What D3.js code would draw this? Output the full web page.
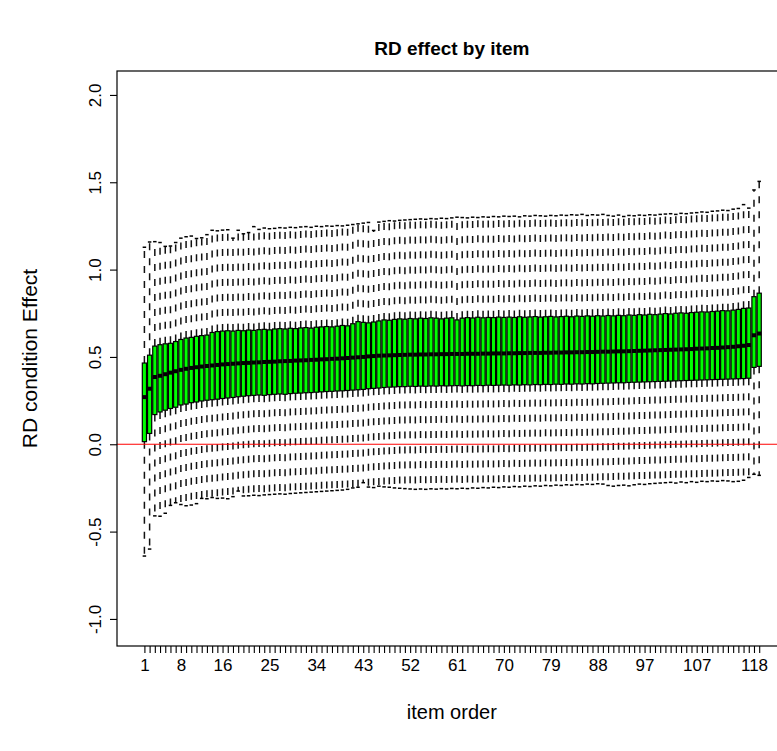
<!DOCTYPE html>
<html>
<head>
<meta charset="utf-8">
<script src="https://cdn.jsdelivr.net/npm/d3@7"></script>
<style>
  body { margin: 0; background: #fff; }
  svg { font-family: "Liberation Sans", Arial, Helvetica, sans-serif; }
</style>
</head>
<body>
<div id="chart"></div>
<script>
var svgWidth = 777;
var svgHeight = 751;

// box stats per item (items sorted by median)
var whiskerLo = [
  -0.640,-0.600,-0.410,-0.412,-0.395,-0.350,-0.335,-0.345,-0.352,-0.348,
  -0.340,-0.310,-0.312,-0.305,-0.310,-0.308,-0.312,-0.300,-0.268,-0.296,
  -0.295,-0.292,-0.294,-0.290,-0.288,-0.286,-0.284,-0.286,-0.282,-0.280,
  -0.278,-0.276,-0.274,-0.272,-0.270,-0.268,-0.266,-0.264,-0.262,-0.258,
  -0.250,-0.246,-0.220,-0.245,-0.248,-0.240,-0.244,-0.246,-0.250,-0.252,
  -0.254,-0.256,-0.258,-0.256,-0.258,-0.255,-0.257,-0.254,-0.256,-0.253,
  -0.255,-0.252,-0.254,-0.250,-0.252,-0.248,-0.250,-0.246,-0.248,-0.244,
  -0.246,-0.242,-0.244,-0.240,-0.242,-0.238,-0.240,-0.236,-0.238,-0.234,
  -0.236,-0.232,-0.234,-0.230,-0.232,-0.228,-0.230,-0.226,-0.228,-0.236,
  -0.240,-0.236,-0.234,-0.238,-0.232,-0.228,-0.230,-0.226,-0.224,-0.222,
  -0.220,-0.218,-0.222,-0.216,-0.220,-0.214,-0.218,-0.212,-0.214,-0.210,
  -0.212,-0.208,-0.210,-0.214,-0.212,-0.206,-0.190,-0.172,-0.178
];
var boxLo = [
  0.015,0.062,0.170,0.185,0.195,0.205,0.212,0.225,0.230,0.238,
  0.242,0.248,0.252,0.255,0.258,0.262,0.265,0.268,0.272,0.275,
  0.278,0.280,0.282,0.280,0.284,0.286,0.288,0.286,0.290,0.292,
  0.293,0.295,0.296,0.298,0.300,0.302,0.303,0.305,0.306,0.308,
  0.310,0.312,0.314,0.318,0.320,0.322,0.325,0.327,0.328,0.330,
  0.330,0.332,0.331,0.333,0.332,0.334,0.333,0.335,0.334,0.335,
  0.336,0.334,0.336,0.335,0.337,0.336,0.338,0.337,0.338,0.339,
  0.338,0.340,0.339,0.341,0.340,0.342,0.341,0.343,0.342,0.344,
  0.343,0.345,0.344,0.346,0.345,0.347,0.346,0.348,0.349,0.350,
  0.351,0.352,0.352,0.354,0.355,0.356,0.357,0.358,0.359,0.360,
  0.361,0.362,0.363,0.364,0.365,0.366,0.367,0.368,0.369,0.370,
  0.371,0.372,0.373,0.374,0.375,0.376,0.378,0.440,0.446
];
var medians = [
  0.270,0.318,0.385,0.392,0.401,0.410,0.418,0.426,0.432,0.437,
  0.441,0.445,0.448,0.451,0.454,0.457,0.459,0.461,0.463,0.465,
  0.466,0.468,0.469,0.471,0.472,0.473,0.475,0.476,0.477,0.479,
  0.480,0.481,0.483,0.484,0.486,0.487,0.489,0.490,0.492,0.494,
  0.496,0.498,0.500,0.503,0.505,0.507,0.508,0.509,0.510,0.511,
  0.512,0.513,0.513,0.514,0.514,0.515,0.515,0.516,0.516,0.517,
  0.517,0.517,0.518,0.518,0.518,0.519,0.519,0.520,0.520,0.520,
  0.521,0.521,0.522,0.522,0.523,0.523,0.523,0.524,0.524,0.525,
  0.525,0.526,0.526,0.527,0.527,0.528,0.528,0.529,0.530,0.530,
  0.531,0.532,0.532,0.533,0.534,0.535,0.536,0.537,0.538,0.539,
  0.540,0.541,0.542,0.543,0.544,0.545,0.547,0.548,0.549,0.551,
  0.552,0.554,0.556,0.558,0.561,0.564,0.568,0.624,0.634
];
var boxHi = [
  0.465,0.510,0.562,0.570,0.575,0.578,0.588,0.600,0.608,0.612,
  0.618,0.622,0.625,0.640,0.645,0.648,0.650,0.648,0.652,0.650,
  0.654,0.652,0.656,0.658,0.655,0.660,0.662,0.660,0.664,0.662,
  0.666,0.668,0.665,0.670,0.672,0.674,0.672,0.676,0.680,0.678,
  0.690,0.702,0.698,0.695,0.700,0.706,0.712,0.710,0.715,0.718,
  0.716,0.720,0.718,0.722,0.720,0.724,0.722,0.718,0.722,0.724,
  0.712,0.722,0.725,0.723,0.727,0.724,0.726,0.725,0.728,0.726,
  0.728,0.726,0.730,0.727,0.729,0.731,0.728,0.730,0.732,0.729,
  0.731,0.733,0.730,0.734,0.732,0.735,0.733,0.736,0.734,0.737,
  0.735,0.738,0.736,0.740,0.738,0.742,0.740,0.744,0.742,0.745,
  0.748,0.746,0.750,0.752,0.750,0.754,0.756,0.758,0.757,0.760,
  0.762,0.765,0.764,0.768,0.772,0.778,0.780,0.845,0.865
];
var whiskerHi = [
  1.128,1.158,1.160,1.155,1.133,1.135,1.155,1.180,1.188,1.192,
  1.178,1.182,1.200,1.225,1.222,1.226,1.228,1.180,1.225,1.205,
  1.212,1.246,1.230,1.238,1.234,1.236,1.240,1.238,1.242,1.240,
  1.244,1.246,1.242,1.248,1.246,1.250,1.248,1.252,1.250,1.254,
  1.258,1.262,1.266,1.270,1.224,1.272,1.276,1.280,1.278,1.282,
  1.284,1.286,1.288,1.290,1.288,1.292,1.290,1.294,1.292,1.296,
  1.300,1.298,1.296,1.300,1.298,1.302,1.300,1.304,1.302,1.306,
  1.304,1.306,1.302,1.308,1.306,1.310,1.308,1.306,1.310,1.308,
  1.312,1.310,1.314,1.312,1.316,1.310,1.314,1.312,1.316,1.310,
  1.306,1.312,1.304,1.310,1.308,1.312,1.310,1.314,1.312,1.316,
  1.318,1.320,1.316,1.322,1.320,1.324,1.326,1.330,1.328,1.334,
  1.336,1.340,1.338,1.346,1.350,1.372,1.352,1.456,1.505
];

// only these item numbers get a printed label (the rest would overlap)
var xLabels = [1, 8, 16, 25, 34, 43, 52, 61, 70, 79, 88, 97, 107, 118];
var yTicks = [-1.0, -0.5, 0.0, 0.5, 1.0, 1.5, 2.0];

var nItems = medians.length;
var items = d3.range(1, nItems + 1);

var plot = { left: 117, top: 71, right: 786.6, bottom: 646 };

var svg = d3.select("#chart")
  .append("svg")
  .attr("width", svgWidth)
  .attr("height", svgHeight);

// R style ranges: data range plus 4% each side
var xScale = d3.scaleLinear()
  .domain([0.5 - 0.04 * nItems, nItems + 0.5 + 0.04 * nItems])
  .range([plot.left, plot.right]);

var yScale = d3.scaleLinear()
  .domain([-1.155, 2.137])
  .range([plot.bottom, plot.top]);

var step = xScale(2) - xScale(1);
var boxW = step * 0.8;
var capW = boxW * 0.6;

var data = items.map(function(d, i) {
  return { item: d, lo: whiskerLo[i], q1: boxLo[i], med: medians[i], q3: boxHi[i], hi: whiskerHi[i] };
});

var g = svg.append("g");

// whiskers (dashed)
g.selectAll(".wUp")
  .data(data)
  .enter()
  .append("line")
  .attr("x1", d => xScale(d.item))
  .attr("x2", d => xScale(d.item))
  .attr("y1", d => yScale(d.q3))
  .attr("y2", d => yScale(d.hi))
  .attr("stroke", "#111")
  .attr("stroke-width", 1.5)
  .attr("stroke-dasharray", "7,8");

g.selectAll(".wDown")
  .data(data)
  .enter()
  .append("line")
  .attr("x1", d => xScale(d.item))
  .attr("x2", d => xScale(d.item))
  .attr("y1", d => yScale(d.q1))
  .attr("y2", d => yScale(d.lo))
  .attr("stroke", "#111")
  .attr("stroke-width", 1.5)
  .attr("stroke-dasharray", "7,8");

// staples
["hi", "lo"].forEach(function(k) {
  g.selectAll(".cap" + k)
    .data(data)
    .enter()
    .append("line")
    .attr("x1", d => xScale(d.item) - capW / 2 - 0.5)
    .attr("x2", d => xScale(d.item) + capW / 2 + 0.5)
    .attr("y1", d => yScale(d[k]))
    .attr("y2", d => yScale(d[k]))
    .attr("stroke", "#000")
    .attr("stroke-width", 1.5);
});

// red reference line at zero
svg.append("line")
  .attr("x1", plot.left)
  .attr("x2", plot.right)
  .attr("y1", yScale(0))
  .attr("y2", yScale(0))
  .attr("stroke", "#ff0000")
  .attr("stroke-width", 1.2);

// boxes
g.selectAll(".box")
  .data(data)
  .enter()
  .append("rect")
  .attr("x", d => xScale(d.item) - boxW / 2)
  .attr("width", boxW)
  .attr("y", d => yScale(d.q3))
  .attr("height", d => yScale(d.q1) - yScale(d.q3))
  .attr("fill", "#00ff00")
  .attr("stroke", "#000")
  .attr("stroke-width", 1.2);

// medians
g.selectAll(".med")
  .data(data)
  .enter()
  .append("line")
  .attr("x1", d => xScale(d.item) - boxW / 2)
  .attr("x2", d => xScale(d.item) + boxW / 2)
  .attr("y1", d => yScale(d.med))
  .attr("y2", d => yScale(d.med))
  .attr("stroke", "#000")
  .attr("stroke-width", 4);

// plot frame
svg.append("rect")
  .attr("x", plot.left)
  .attr("y", plot.top)
  .attr("width", plot.right - plot.left)
  .attr("height", plot.bottom - plot.top)
  .attr("fill", "none")
  .attr("stroke", "#000")
  .attr("stroke-width", 1.2);

// x axis
var xAxis = d3.axisBottom(xScale)
  .tickValues(items)
  .tickSize(7)
  .tickSizeOuter(0)
  .tickPadding(6)
  .tickFormat(d => xLabels.indexOf(d) >= 0 ? d : "");

var xg = svg.append("g")
  .attr("transform", `translate(0, ${plot.bottom})`)
  .call(xAxis);
xg.select(".domain").remove();
xg.selectAll("line").attr("stroke", "#000").attr("stroke-width", 1.1);
xg.selectAll("text")
  .style("font-size", "17px")
  .style("font-family", "Liberation Sans, Arial, sans-serif")
  .attr("fill", "#000");

// y axis, labels rotated like R's default las=0
var yAxis = d3.axisLeft(yScale)
  .tickValues(yTicks)
  .tickSize(7)
  .tickSizeOuter(0)
  .tickFormat(d => d.toFixed(1));

var yg = svg.append("g")
  .attr("transform", `translate(${plot.left}, 0)`)
  .call(yAxis);
yg.select(".domain").remove();
yg.selectAll("line").attr("stroke", "#000").attr("stroke-width", 1.1);
yg.selectAll("text")
  .attr("x", null)
  .attr("dy", null)
  .attr("text-anchor", "middle")
  .attr("transform", "translate(-16, 0) rotate(-90)")
  .attr("y", 0)
  .style("font-size", "17px")
  .style("font-family", "Liberation Sans, Arial, sans-serif")
  .attr("fill", "#000");

// titles
svg.append("text")
  .attr("x", (plot.left + plot.right) / 2)
  .attr("y", 55)
  .attr("text-anchor", "middle")
  .style("font-weight", "bold")
  .style("font-size", "19px")
  .text("RD effect by item");

svg.append("text")
  .attr("x", (plot.left + plot.right) / 2)
  .attr("y", 719)
  .attr("text-anchor", "middle")
  .style("font-size", "20px")
  .text("item order");

svg.append("text")
  .attr("transform", `translate(37, ${(plot.top + plot.bottom) / 2}) rotate(-90)`)
  .attr("text-anchor", "middle")
  .style("font-size", "21px")
  .text("RD condition Effect");
</script>
</body>
</html>
